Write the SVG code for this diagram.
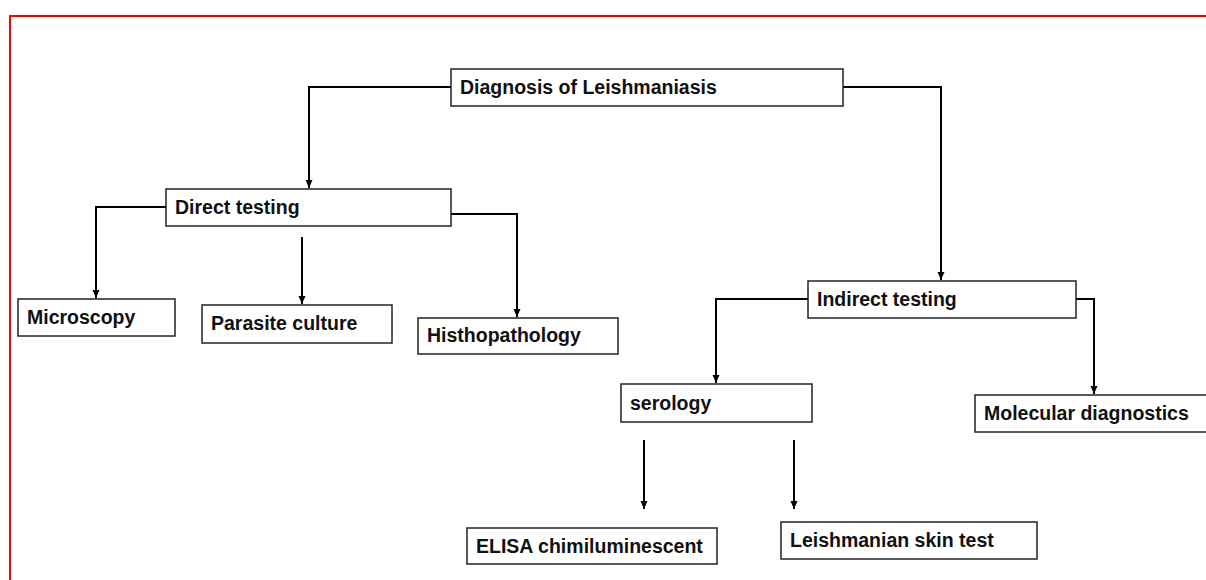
<svg xmlns="http://www.w3.org/2000/svg" width="1206" height="580" viewBox="0 0 1206 580">
<style>
.box{fill:#fff;stroke:#222;stroke-width:1.5}
.lbl{font-family:"Liberation Sans",Arial,sans-serif;font-weight:bold;font-size:19.5px;fill:#111}
.con{fill:none;stroke:#000;stroke-width:2}
.frame{fill:none;stroke:#ff0000;stroke-width:2}
</style>
<defs>
<marker id="arr" markerUnits="userSpaceOnUse" markerWidth="10" markerHeight="10" viewBox="0 0 10 10" refX="9" refY="5" orient="auto">
<path d="M1,1.5 L9,5 L1,8.5 Z" fill="#000"/>
</marker>
</defs>
<rect width="1206" height="580" fill="#fff"/>
<path class="frame" d="M10,580 L10,16 L1206,16"/>
<g id="connectors">
<path class="con" marker-end="url(#arr)" d="M451,87 L309,87 L309,188"/>
<path class="con" marker-end="url(#arr)" d="M843,87 L941,87 L941,280"/>
<path class="con" marker-end="url(#arr)" d="M166,207 L96,207 L96,298"/>
<path class="con" marker-end="url(#arr)" d="M302,237 L302,304"/>
<path class="con" marker-end="url(#arr)" d="M447,214 L517,214 L517,317"/>
<path class="con" marker-end="url(#arr)" d="M808,299 L716,299 L716,383"/>
<path class="con" marker-end="url(#arr)" d="M1076,299 L1094,299 L1094,394"/>
<path class="con" marker-end="url(#arr)" d="M644,440 L644,509"/>
<path class="con" marker-end="url(#arr)" d="M794,440 L794,509"/>
</g>
<g id="n-diagnosis"><rect class="box" x="451" y="69" width="392" height="37"/><text class="lbl" x="460" y="94">Diagnosis of Leishmaniasis</text></g>
<g id="n-direct"><rect class="box" x="166" y="189" width="285" height="37"/><text class="lbl" x="175" y="214">Direct testing</text></g>
<g id="n-microscopy"><rect class="box" x="18" y="299" width="157" height="37"/><text class="lbl" x="27" y="324">Microscopy</text></g>
<g id="n-culture"><rect class="box" x="202" y="305" width="190" height="38"/><text class="lbl" x="211" y="330">Parasite culture</text></g>
<g id="n-histo"><rect class="box" x="418" y="318" width="200" height="36"/><text class="lbl" x="427" y="342">Histhopathology</text></g>
<g id="n-indirect"><rect class="box" x="808" y="281" width="268" height="37"/><text class="lbl" x="817" y="306">Indirect testing</text></g>
<g id="n-serology"><rect class="box" x="621" y="384" width="191" height="38"/><text class="lbl" x="630" y="410">serology</text></g>
<g id="n-molecular"><rect class="box" x="975" y="395" width="240" height="37"/><text class="lbl" x="984" y="420">Molecular diagnostics</text></g>
<g id="n-elisa"><rect class="box" x="467" y="528" width="250" height="36"/><text class="lbl" x="476" y="553">ELISA chimiluminescent</text></g>
<g id="n-skin"><rect class="box" x="781" y="522" width="256" height="37"/><text class="lbl" x="790" y="547">Leishmanian skin test</text></g>
</svg>
